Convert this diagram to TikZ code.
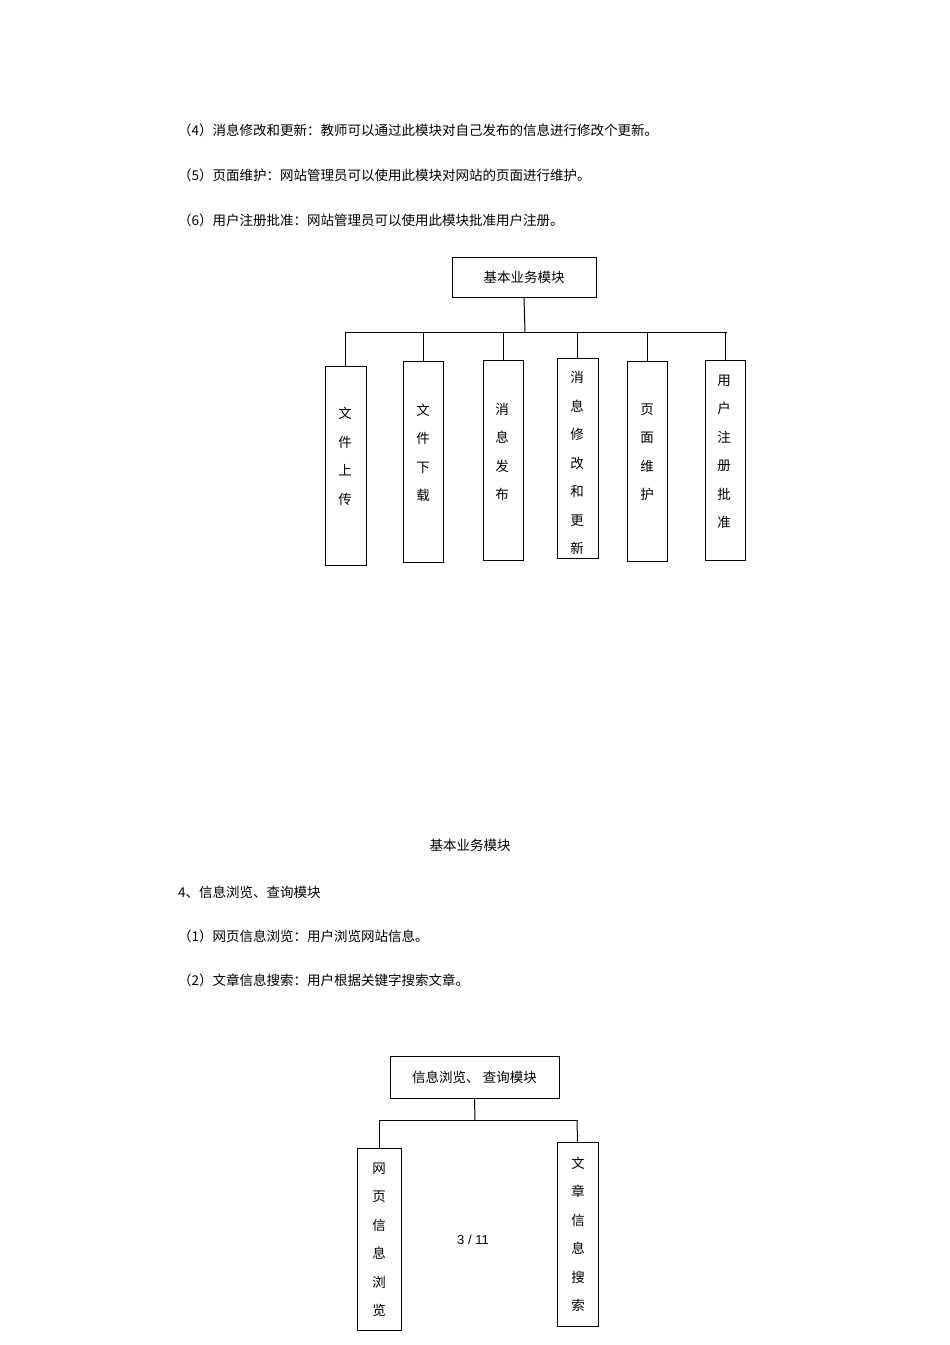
\documentclass[tikz,border=0pt]{standalone}
\usepackage{fontspec}
\setmainfont{Noto Sans CJK SC}
\newfontfamily\numfont{Liberation Sans}
\begin{document}
\begin{tikzpicture}[x=1pt,y=-1pt,
  box/.style={draw,line width=1pt,inner sep=0pt},
  vtext/.style={align=center,font=\fontsize{13.5}{28.5}\selectfont,inner sep=0pt},
  txt/.style={anchor=west,font=\fontsize{13.5}{16}\selectfont,inner sep=0pt},
  conn/.style={line width=1pt}]
\useasboundingbox (0,0) rectangle (950,1345);
% text lines
\node[txt] (l1) at (178,130) {（4）消息修改和更新：教师可以通过此模块对自己发布的信息进行修改个更新。};
\node[txt] (l2) at (178,175) {（5）页面维护：网站管理员可以使用此模块对网站的页面进行维护。};
\node[txt] (l3) at (178,220) {（6）用户注册批准：网站管理员可以使用此模块批准用户注册。};
% top diagram
\node[box,minimum width=144pt,minimum height=40pt,font=\fontsize{13.5}{16}\selectfont] (top) at (524,277) {基本业务模块};
\coordinate (bar) at (525,332);
\coordinate (barL) at (345,332);
\coordinate (barR) at (727,332);
\draw[conn] (top.south) -- (bar);
\draw[conn] (barL) -- (barR);
\node[box,minimum width=41pt,minimum height=199pt] (c1) at (345.5,465.5) {};
\node[box,minimum width=40pt,minimum height=201pt] (c2) at (423,461.5) {};
\node[box,minimum width=40pt,minimum height=200pt] (c3) at (503,460) {};
\node[box,minimum width=41pt,minimum height=200pt] (c4) at (577.5,458) {};
\node[box,minimum width=40pt,minimum height=200pt] (c5) at (647,461) {};
\node[box,minimum width=40pt,minimum height=200pt] (c6) at (725,460) {};
\foreach \n in {1,...,6} \draw[conn] (c\n.north |- bar) -- (c\n.north);
\node[vtext] (t1) at (345,456.5) {文\\件\\上\\传};
\node[vtext] (t2) at (423,453) {文\\件\\下\\载};
\node[vtext] (t3) at (502,452) {消\\息\\发\\布};
\node[vtext] (t4) at (577,463) {消\\息\\修\\改\\和\\更\\新};
\node[vtext] (t5) at (647,452) {页\\面\\维\\护};
\node[vtext] (t6) at (724,452) {用\\户\\注\\册\\批\\准};
% caption and text
\node[font=\fontsize{13.5}{16}\selectfont,inner sep=0pt] (cap) at (470,845) {基本业务模块};
\node[txt] (l4) at (178,892) {4、信息浏览、查询模块};
\node[txt] (l5) at (178,936) {（1）网页信息浏览：用户浏览网站信息。};
\node[txt] (l6) at (178,980) {（2）文章信息搜索：用户根据关键字搜索文章。};
% bottom diagram
\node[box,minimum width=169pt,minimum height=42pt,font=\fontsize{13.5}{16}\selectfont] (bt) at (474.5,1077) {信息浏览、 查询模块};
\coordinate (bb) at (475,1120);
\coordinate (bbL) at (379,1120);
\coordinate (bbR) at (577,1120);
\draw[conn] (bt.south) -- (bb);
\draw[conn] (bbL) -- (bbR);
\node[box,minimum width=44pt,minimum height=182pt] (d1) at (379,1239) {};
\node[box,minimum width=41pt,minimum height=184pt] (d2) at (577.5,1234) {};
\draw[conn] (bbL) -- (d1.north);
\draw[conn] (bbR) -- (d2.north);
\node[vtext] (u1) at (379,1240) {网\\页\\信\\息\\浏\\览};
\node[vtext] (u2) at (578,1234.5) {文\\章\\信\\息\\搜\\索};
\node[font=\numfont\fontsize{13}{16}\selectfont,inner sep=0pt] (pg) at (473,1240) {3 / 11};
\end{tikzpicture}
\end{document}
